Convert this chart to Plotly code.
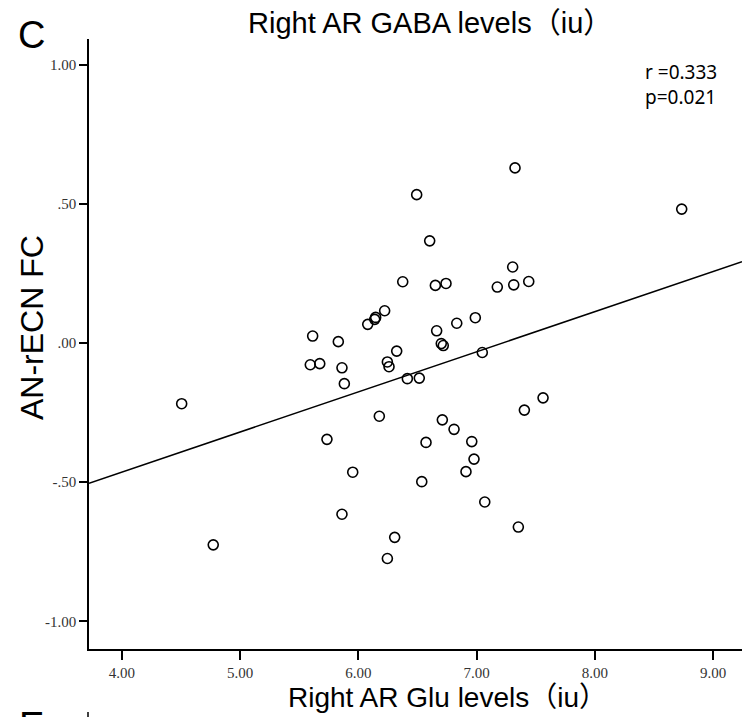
import numpy as np
import plotly.graph_objects as go

# Right AR Glu levels (iu) and AN-rECN functional connectivity per subject
glu = [7.325, 6.493, 6.603, 7.305, 6.375, 6.651, 6.741, 7.175, 7.314, 7.441,
       6.222, 6.138, 6.146, 6.079, 6.832, 6.989, 5.613, 5.830, 6.662, 6.701,
       6.718, 6.324, 7.048, 5.593, 5.673, 5.861, 6.245, 6.259, 5.881, 6.414,
       6.515, 7.562, 7.404, 6.177, 6.710, 6.809, 5.734, 6.572, 6.959, 6.978,
       5.952, 6.910, 6.536, 7.069, 5.861, 7.353, 6.307, 6.245, 4.505, 4.772,
       8.735]
fc = [0.629, 0.533, 0.367, 0.273, 0.220, 0.207, 0.214, 0.201, 0.209, 0.221,
      0.116, 0.085, 0.092, 0.067, 0.071, 0.091, 0.025, 0.005, 0.044, -0.002,
      -0.009, -0.029, -0.034, -0.078, -0.074, -0.089, -0.068, -0.085, -0.146, -0.128,
      -0.126, -0.197, -0.241, -0.263, -0.276, -0.310, -0.346, -0.357, -0.354, -0.417,
      -0.464, -0.462, -0.498, -0.571, -0.615, -0.661, -0.698, -0.774, -0.218, -0.725,
      0.481]

x_tickvals = [4, 5, 6, 7, 8, 9]
x_ticktext = ["4.00", "5.00", "6.00", "7.00", "8.00", "9.00"]
y_tickvals = [1.0, 0.5, 0.0, -0.5, -1.0]
y_ticktext = ["1.00", ".50", ".00", "-.50", "-1.00"]

r_text = "r =0.333"
p_text = "p=0.021"

x_range = [3.721, 9.245]
y_range = [-1.099, 1.092]

# least-squares fit line across the full x range
slope, intercept = np.polyfit(glu, fc, 1)
fit_x = np.array(x_range)
fit_y = intercept + slope * fit_x

SANS = "Liberation Sans, Arial, Noto Sans CJK SC, sans-serif"
SERIF = "Liberation Serif, Times New Roman, serif"

fig = go.Figure()
fig.add_trace(go.Scatter(
    x=fit_x, y=fit_y, mode="lines",
    line=dict(color="black", width=1.5),
    hoverinfo="skip", showlegend=False, cliponaxis=True,
))
fig.add_trace(go.Scatter(
    x=glu, y=fc, mode="markers",
    marker=dict(symbol="circle-open", size=10, color="black",
                line=dict(width=1.6, color="black")),
    showlegend=False,
))

fig.update_xaxes(
    range=x_range, tickmode="array", tickvals=x_tickvals, ticktext=x_ticktext,
    showgrid=False, zeroline=False, showline=True, linecolor="black", linewidth=1.5,
    ticks="outside", ticklen=9, tickwidth=1.5, tickcolor="black",
    tickfont=dict(family=SERIF, size=15, color="#333333"),
    ticklabelstandoff=0,
)
fig.update_yaxes(
    range=y_range, tickmode="array", tickvals=y_tickvals, ticktext=y_ticktext,
    showgrid=False, zeroline=False, showline=True, linecolor="black", linewidth=1.5,
    ticks="outside", ticklen=8, tickwidth=1.5, tickcolor="black",
    tickfont=dict(family=SERIF, size=15, color="#333333"),
    ticklabelstandoff=0,
)

W, H = 742, 717
L, R, T, B = 89, 0, 39, 68
pw, ph = W - L - R, H - T - B


def px(xp):
    return (xp - L) / pw


def py(yp):
    return (H - B - yp) / ph


annotations = [
    dict(text="Right AR GABA levels（iu）", x=px(430), y=py(23), xanchor="center",
         yanchor="middle", font=dict(family=SANS, size=29, color="black")),
    dict(text="Right AR Glu levels（iu）", x=px(447), y=py(698), xanchor="center",
         yanchor="middle", font=dict(family=SANS, size=28, color="black")),
    dict(text="AN-rECN FC", x=px(32), y=py(327), xanchor="center", yanchor="middle",
         textangle=-90, font=dict(family=SANS, size=32, color="black")),
    dict(text="C", x=px(31), y=py(35), xanchor="center", yanchor="middle",
         font=dict(family=SANS, size=38, color="black")),
    dict(text="E", x=px(31), y=py(726), xanchor="center", yanchor="middle",
         font=dict(family=SANS, size=38, color="black")),
    dict(text=r_text, x=px(643), y=py(72), xanchor="left", yanchor="middle",
         font=dict(family="Noto Sans, sans-serif", size=19, color="black")),
    dict(text=p_text, x=px(643), y=py(97), xanchor="left", yanchor="middle",
         font=dict(family="Noto Sans, sans-serif", size=19, color="black")),
]
for a in annotations:
    a.update(xref="paper", yref="paper", showarrow=False)

fig.update_layout(
    width=W, height=H,
    margin=dict(l=L, r=R, t=T, b=B, pad=0),
    paper_bgcolor="white", plot_bgcolor="white",
    annotations=annotations,
    shapes=[dict(type="line", xref="paper", yref="paper",
                 x0=px(88), x1=px(88), y0=py(712), y1=py(720),
                 line=dict(color="black", width=1.5))],
)

fig.write_html("out.html")
